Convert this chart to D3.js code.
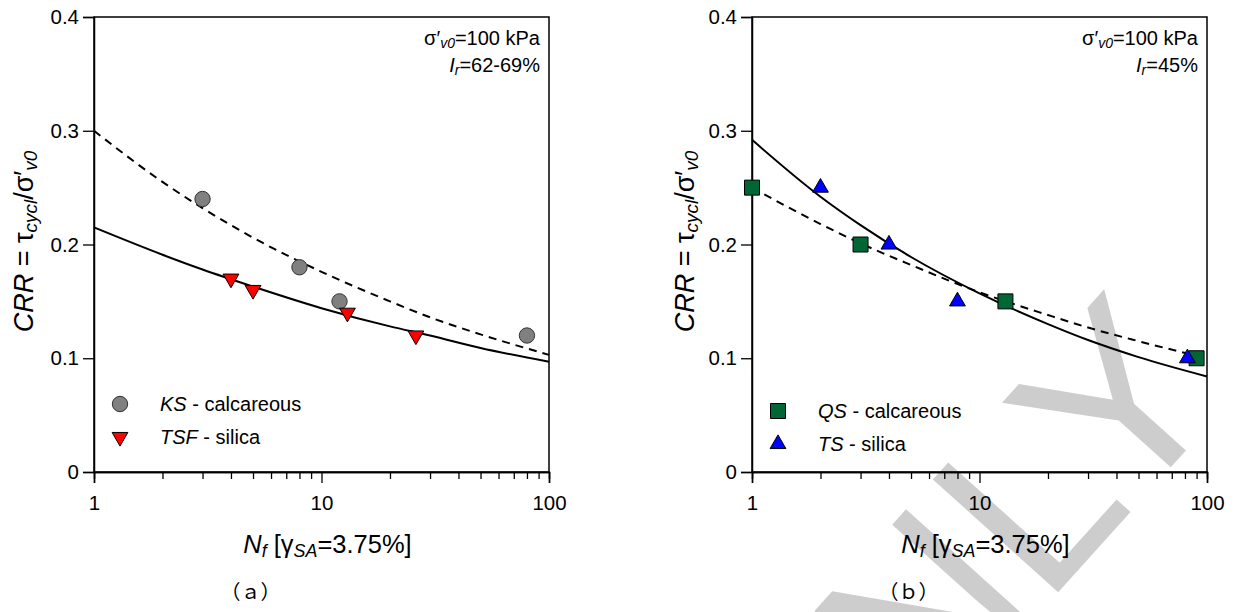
<!DOCTYPE html>
<html>
<head>
<meta charset="utf-8">
<script src="https://cdn.jsdelivr.net/npm/d3@7"></script>
<style>
  html, body { margin: 0; padding: 0; background: #fff; }
  svg { display: block; }
  text { font-family: "Liberation Sans", Arial, sans-serif; fill: #000; }
  text.cjk { font-family: "Noto Sans CJK SC", "Noto Sans CJK JP", sans-serif;
             text-spacing-trim: space-all; font-feature-settings: "fwid" 1; }
</style>
</head>
<body>
<svg id="chart" width="1236" height="612"></svg>
<script>
// ---------- data ----------
const yTicks = [0, 0.1, 0.2, 0.3, 0.4];
const xMajorTicks = [1, 10, 100];
const xMinorTicks = [2, 3, 4, 5, 6, 7, 8, 9, 20, 30, 40, 50, 60, 70, 80, 90];

// panel (a)
const ksN = [3, 8, 12, 80];
const ksCRR = [0.24, 0.18, 0.15, 0.12];
const tsfN = [4, 5, 13, 26];
const tsfCRR = [0.17, 0.16, 0.14, 0.12];
const fitN = [1, 2, 3, 5, 10, 20, 30, 50, 100];
const ksFit = [0.300, 0.255, 0.232, 0.206, 0.176, 0.150, 0.136, 0.121, 0.103];
const tsfFit = [0.215, 0.191, 0.178, 0.163, 0.144, 0.128, 0.120, 0.109, 0.097];

// panel (b)
const qsN = [1, 3, 13, 90];
const qsCRR = [0.25, 0.20, 0.15, 0.10];
const tsN = [2, 4, 8, 82];
const tsCRR = [0.25, 0.20, 0.15, 0.10];
const qsFit = [0.250, 0.218, 0.201, 0.182, 0.158, 0.138, 0.127, 0.115, 0.100];
const tsFit = [0.292, 0.242, 0.217, 0.189, 0.157, 0.130, 0.116, 0.101, 0.084];

// ---------- layout ----------
const svg = d3.select("#chart");
const W = 455, H = 455;

function richText(g, parts, attrs) {
  const t = g.append("text");
  Object.entries(attrs).forEach(([k, v]) => t.attr(k, v));
  parts.forEach(p => {
    const ts = t.append("tspan").text(p.t);
    if (p.i) ts.attr("font-style", "italic");
    if (p.sub) ts.attr("font-size", "70%").attr("baseline-shift", "-22%");
  });
  return t;
}

// watermark (drawn beneath the chart)
svg.append("text")
  .attr("transform", "translate(1233,398) rotate(-48)")
  .attr("text-anchor", "end")
  .attr("font-size", 245)
  .style("fill", "#cdcdcd")
  .text("ONLY");

function panel(ox, cfg) {
  const g = svg.append("g").attr("transform", `translate(${ox},17)`);
  const x = d3.scaleLog().domain([1, 100]).range([0, W]);
  const y = d3.scaleLinear().domain([0, 0.4]).range([H, 0]);

  // frame
  g.append("rect").attr("x", 0).attr("y", 0).attr("width", W).attr("height", H)
    .attr("fill", "none").attr("stroke", "#000").attr("stroke-width", 1.5);

  // axes
  const ax = g.append("g").attr("transform", `translate(0,${H})`)
    .call(d3.axisBottom(x).tickValues(xMajorTicks).tickSize(11).tickPadding(12)
      .tickFormat(d3.format("d")));
  const axm = g.append("g").attr("transform", `translate(0,${H})`)
    .call(d3.axisBottom(x).tickValues(xMinorTicks).tickSize(7).tickFormat(""));
  const ay = g.append("g")
    .call(d3.axisLeft(y).tickValues(yTicks).tickSize(11).tickPadding(4)
      .tickFormat(d => d === 0 ? "0" : d3.format(".1f")(d)));
  [ax, axm, ay].forEach(a => {
    a.attr("font-family", null);
    a.select(".domain").attr("stroke-width", 1.5);
    a.selectAll(".tick line").attr("stroke-width", 1.3);
    a.selectAll("text").attr("font-size", 20.5);
  });

  // fits
  const line = d3.line().x(d => x(d[0])).y(d => y(d[1])).curve(d3.curveMonotoneX);
  g.append("path").datum(fitN.map((n, i) => [n, cfg.dashFit[i]]))
    .attr("d", line).attr("fill", "none").attr("stroke", "#000")
    .attr("stroke-width", 2).attr("stroke-dasharray", "8,6");
  g.append("path").datum(fitN.map((n, i) => [n, cfg.solidFit[i]]))
    .attr("d", line).attr("fill", "none").attr("stroke", "#000")
    .attr("stroke-width", 2);

  // markers
  cfg.series.forEach(s => {
    const sym = d3.symbol().type(s.type).size(s.size);
    g.selectAll(null).data(s.n.map((n, i) => [n, s.v[i]])).enter()
      .append("path").attr("d", sym)
      .attr("transform", d => `translate(${x(d[0])},${y(d[1])}) rotate(${s.rot || 0})`)
      .attr("fill", s.fill).attr("stroke", s.stroke).attr("stroke-width", 1);
  });

  // legend
  cfg.series.forEach((s, i) => {
    const ly = cfg.legendY + i * 33;
    g.append("path").attr("d", d3.symbol().type(s.type).size(s.size))
      .attr("transform", `translate(${cfg.legendX},${ly}) rotate(${s.rot || 0})`)
      .attr("fill", s.fill).attr("stroke", s.stroke).attr("stroke-width", 1);
    richText(g, [{ t: s.name, i: true }, { t: " - " + s.kind }],
      { x: cfg.legendX + 40, y: ly + 6.5, "font-size": 20 });
  });

  // annotation
  richText(g, [{ t: "σ′" }, { t: "v0", i: true, sub: true }, { t: "=100 kPa" }],
    { x: W - 9, y: 28, "font-size": 20, "text-anchor": "end" });
  richText(g, [{ t: "I", i: true }, { t: "r", i: true, sub: true }, { t: "=" + cfg.ir }],
    { x: W - 9, y: 55, "font-size": 20, "text-anchor": "end" });

  // y title
  richText(g, [{ t: "CRR", i: true }, { t: " = τ" }, { t: "cycl", i: true, sub: true },
    { t: "/σ′" }, { t: "v0", i: true, sub: true }],
    { transform: `translate(${cfg.yTitleX},${H / 2 - 3}) rotate(-90)`, "text-anchor": "middle", "font-size": 27 });

  // x title
  richText(g, [{ t: "N", i: true }, { t: "f", i: true, sub: true }, { t: " [γ" },
    { t: "SA", i: true, sub: true }, { t: "=3.75%]" }],
    { x: W / 2 + 6, y: 536, "text-anchor": "middle", "font-size": 25.5 });

  // panel label
  g.append("text").attr("class", "cjk").attr("x", W / 2 - 71).attr("y", 582)
    .attr("text-anchor", "middle").attr("font-size", 20)
    .text(cfg.label);
}

panel(94, {
  dashFit: ksFit, solidFit: tsfFit, ir: "62-69%", label: "（a）",
  legendX: 26, legendY: 387, yTitleX: -61,
  series: [
    { name: "KS", kind: "calcareous", n: ksN, v: ksCRR, type: d3.symbolCircle, size: 185, fill: "#808080", stroke: "#333" },
    { name: "TSF", kind: "silica", n: tsfN, v: tsfCRR, type: d3.symbolTriangle, size: 108, rot: 180, fill: "#ff0000", stroke: "#000" }
  ]
});

panel(752, {
  dashFit: qsFit, solidFit: tsFit, ir: "45%", label: "（b）",
  legendX: 26, legendY: 394, yTitleX: -58,
  series: [
    { name: "QS", kind: "calcareous", n: qsN, v: qsCRR, type: d3.symbolSquare, size: 225, fill: "#006633", stroke: "#000" },
    { name: "TS", kind: "silica", n: tsN, v: tsCRR, type: d3.symbolTriangle, size: 108, fill: "#0000ff", stroke: "#000" }
  ]
});
</script>
</body>
</html>
